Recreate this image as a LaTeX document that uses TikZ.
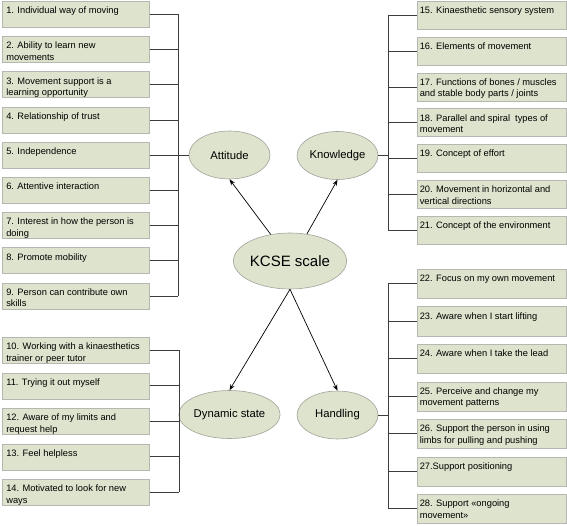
\documentclass[tikz,border=0pt]{standalone}
\usepackage{fontspec}
\setmainfont{Liberation Sans}
\usetikzlibrary{shapes.geometric,arrows.meta}
\definecolor{boxfill}{HTML}{DDE3CC}
\definecolor{boxline}{HTML}{B5B8B0}
\definecolor{ellline}{HTML}{A0A39A}
\definecolor{connline}{HTML}{3C3C3C}
\newcommand{\btxt}[3]{\parbox[c][#2pt][t]{#1pt}{\raggedright\fontsize{9.3}{11.6}\selectfont\rule{0pt}{12.5pt}#3}}
\tikzset{
  lbox/.style={draw=boxline, fill=boxfill, line width=0.6pt, inner xsep=4pt, inner ysep=0pt, anchor=north west},
  rbox/.style={draw=boxline, fill=boxfill, line width=0.6pt, inner xsep=2.5pt, inner ysep=0pt, anchor=north west},
  ell/.style={ellipse, draw=ellline, fill=boxfill, line width=0.6pt, inner sep=0pt, minimum width=81pt, minimum height=48pt, font=\fontsize{11.3}{13}\selectfont},
  conn/.style={draw=connline, line width=0.7pt},
  arr/.style={draw=black, line width=0.7pt, -{Stealth[length=6pt,width=4.5pt]}}
}
\begin{document}
\begin{tikzpicture}[x=1pt,y=-1pt]
\useasboundingbox (0,0) rectangle (567,526);
% Center
\node[ell, minimum width=94pt, minimum height=56pt, font=\fontsize{15}{17}\selectfont] (kcse) at (290,261) {KCSE scale};
\node[ell] (att) at (229.5,155) {Attitude};
\node[ell] (kno) at (337.5,155.5) {Knowledge};
\node[ell] (dyn) at (229.5,414.5) {Dynamic state};
\node[ell] (han) at (337.5,415) {Handling};
\draw[arr] (kcse.126) -- (att.south);
\draw[arr] (kcse.58) -- (kno.south);
\draw[arr] (kcse.south) -- (dyn.north);
\draw[arr] (kcse.south) -- (han.north);
% Attitude boxes
\node[lbox] (b1) at (2,1) {\btxt{139}{26}{1. Individual way of moving}};
\node[lbox] (b2) at (2,36.2) {\btxt{139}{26}{2. Ability to learn new\\movements}};
\node[lbox] (b3) at (2,71.4) {\btxt{139}{26}{3. Movement support is a\\learning opportunity}};
\node[lbox] (b4) at (2,106.6) {\btxt{139}{26}{4. Relationship of trust}};
\node[lbox] (b5) at (2,141.8) {\btxt{139}{26}{5. Independence}};
\node[lbox] (b6) at (2,177) {\btxt{139}{26}{6. Attentive interaction}};
\node[lbox] (b7) at (2,212.2) {\btxt{139}{26}{7. Interest in how the person is\\doing}};
\node[lbox] (b8) at (2,247.4) {\btxt{139}{26}{8. Promote mobility}};
\node[lbox] (b9) at (2,282.6) {\btxt{139}{26}{9. Person can contribute own\\skills}};
\coordinate (busA) at (178,155);
\foreach \i in {1,...,9} {\draw[conn] (b\i.east) -- (b\i.east -| busA);}
\draw[conn] (b1.east -| busA) -- (b9.east -| busA);
\draw[conn] (busA) -- (att.west);
% Dynamic state boxes
\node[lbox] (b10) at (2,337) {\btxt{139}{26}{10. Working with a kinaesthetics\\trainer or peer tutor}};
\node[lbox] (b11) at (2,372.5) {\btxt{139}{26}{11. Trying it out myself}};
\node[lbox] (b12) at (2,408) {\btxt{139}{26}{12. Aware of my limits and\\request help}};
\node[lbox] (b13) at (2,443.5) {\btxt{139}{26}{13. Feel helpless}};
\node[lbox] (b14) at (2,479) {\btxt{139}{26}{14. Motivated to look for new\\ways}};
\coordinate (busD) at (179,414.5);
\foreach \i in {10,...,14} {\draw[conn] (b\i.east) -- (b\i.east -| busD);}
\draw[conn] (b10.east -| busD) -- (b14.east -| busD);
\draw[conn] (busD) -- (dyn.west);
% Knowledge boxes
\node[rbox] (b15) at (417,1) {\btxt{144}{28}{15. Kinaesthetic sensory system}};
\node[rbox] (b16) at (417,36.8) {\btxt{144}{28}{16. Elements of movement}};
\node[rbox] (b17) at (417,72.6) {\btxt{144}{28}{17. Functions of bones / muscles\\and stable body parts / joints}};
\node[rbox] (b18) at (417,108.4) {\btxt{144}{28}{18. Parallel and spiral\ \ types of\\movement}};
\node[rbox] (b19) at (417,144.2) {\btxt{144}{28}{19. Concept of effort}};
\node[rbox] (b20) at (417,180) {\btxt{144}{28}{20. Movement in horizontal and\\vertical directions}};
\node[rbox] (b21) at (417,215.8) {\btxt{144}{28}{21. Concept of the environment}};
\coordinate (busK) at (388,155.5);
\foreach \i in {15,...,21} {\draw[conn] (b\i.west) -- (b\i.west -| busK);}
\draw[conn] (b15.west -| busK) -- (b21.west -| busK);
\draw[conn] (kno.east) -- (busK);
% Handling boxes
\node[rbox] (b22) at (417,269) {\btxt{144}{29}{22. Focus on my own movement}};
\node[rbox] (b23) at (417,306.5) {\btxt{144}{29}{23. Aware when I start lifting}};
\node[rbox] (b24) at (417,344) {\btxt{144}{29}{24. Aware when I take the lead}};
\node[rbox] (b25) at (417,381.5) {\btxt{144}{29}{25. Perceive and change my\\movement patterns}};
\node[rbox] (b26) at (417,419) {\btxt{144}{29}{26. Support the person in using\\limbs for pulling and pushing}};
\node[rbox] (b27) at (417,456.5) {\btxt{144}{29}{27.Support positioning}};
\node[rbox] (b28) at (417,494) {\btxt{144}{29}{28. Support «ongoing\\movement»}};
\coordinate (busH) at (388,415);
\foreach \i in {22,...,28} {\draw[conn] (b\i.west) -- (b\i.west -| busH);}
\draw[conn] (b22.west -| busH) -- (b28.west -| busH);
\draw[conn] (han.east) -- (busH);
\end{tikzpicture}
\end{document}
